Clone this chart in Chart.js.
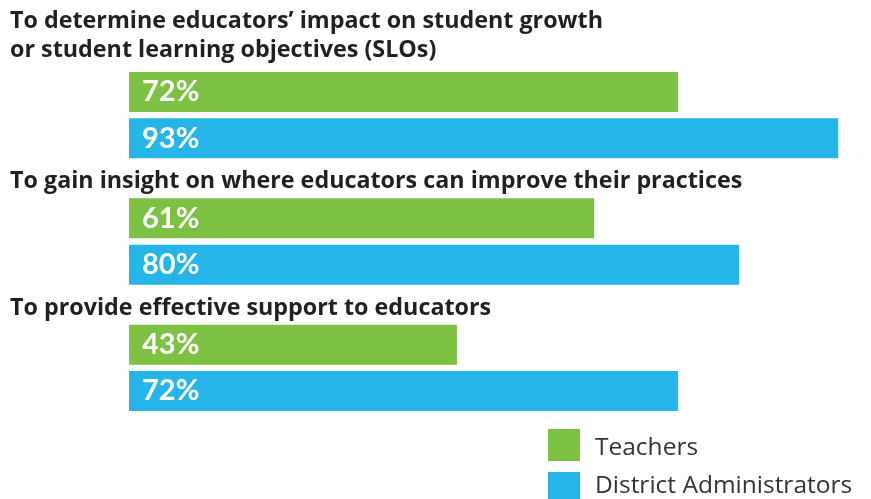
<!DOCTYPE html>
<html>
<head>
<meta charset="utf-8">
<script src="https://cdn.jsdelivr.net/npm/chart.js@4/dist/chart.umd.min.js"></script>
<style>
  body { margin: 0; background: #fff; }
  canvas { display: block; }
</style>
</head>
<body>
<canvas id="purposeChart" width="871" height="499"></canvas>
<script>
const categories = [
  ['To determine educators’ impact on student growth', 'or student learning objectives (SLOs)'],
  ['To gain insight on where educators can improve their practices'],
  ['To provide effective support to educators'],
];
const seriesNames = ['Teachers', 'District Administrators'];
const teachers = [72, 61, 43];
const administrators = [93, 80, 72];

const GREEN = '#7dc142';
const BLUE = '#26b5e9';
const TEXT = '#231f20';

const ctx = document.querySelector('#purposeChart').getContext('2d');

// question text above each pair of bars
const questionLabels = {
  id: 'questionLabels',
  afterDraw(chart) {
    const c = chart.ctx;
    const meta = chart.getDatasetMeta(0);
    c.save();
    c.fillStyle = TEXT;
    c.font = 'bold 23.3px "Open Sans"';
    c.textBaseline = 'alphabetic';
    c.textAlign = 'left';
    categories.forEach((lines, i) => {
      const bar = meta.data[i];
      const top = bar.y - bar.height / 2;
      const last = top - (lines.length > 1 ? 15 : 10);
      lines.forEach((line, j) => {
        c.fillText(line, 10, last - (lines.length - 1 - j) * 29);
      });
    });
    c.restore();
  },
};

// percentage inside each bar
const valueLabels = {
  id: 'valueLabels',
  afterDatasetsDraw(chart) {
    const c = chart.ctx;
    c.save();
    c.fillStyle = '#fff';
    c.font = 'bold 29px Lato';
    c.textBaseline = 'middle';
    chart.data.datasets.forEach((ds, d) => {
      chart.getDatasetMeta(d).data.forEach((bar, i) => {
        c.fillText(ds.data[i] + '%', bar.base + 13, bar.y);
      });
    });
    c.restore();
  },
};

// square swatch legend, bottom right
const swatchLegend = {
  id: 'swatchLegend',
  afterDraw(chart) {
    const c = chart.ctx;
    c.save();
    c.font = '24.5px "Open Sans"';
    c.textBaseline = 'alphabetic';
    chart.data.datasets.forEach((ds, d) => {
      c.fillStyle = ds.backgroundColor;
      c.fillRect(548, 429 + d * 43, 32, 32);
      c.fillStyle = '#333';
      c.fillText(ds.label, 595, 455 + d * 38);
    });
    c.restore();
  },
};

new Chart(ctx, {
  type: 'bar',
  data: {
    labels: categories,
    datasets: [
      { label: seriesNames[0], data: teachers, backgroundColor: GREEN },
      { label: seriesNames[1], data: administrators, backgroundColor: BLUE },
    ],
  },
  options: {
    indexAxis: 'y',
    responsive: false,
    animation: false,
    categoryPercentage: 0.733,
    barPercentage: 0.864,
    layout: { padding: { left: 129, right: 0, top: 52, bottom: 68 } },
    scales: {
      x: { min: 0, max: 97.3, display: false },
      y: { display: false },
    },
    plugins: {
      legend: { display: false },
      tooltip: { enabled: false },
    },
  },
  plugins: [questionLabels, valueLabels, swatchLegend],
});
</script>
</body>
</html>
